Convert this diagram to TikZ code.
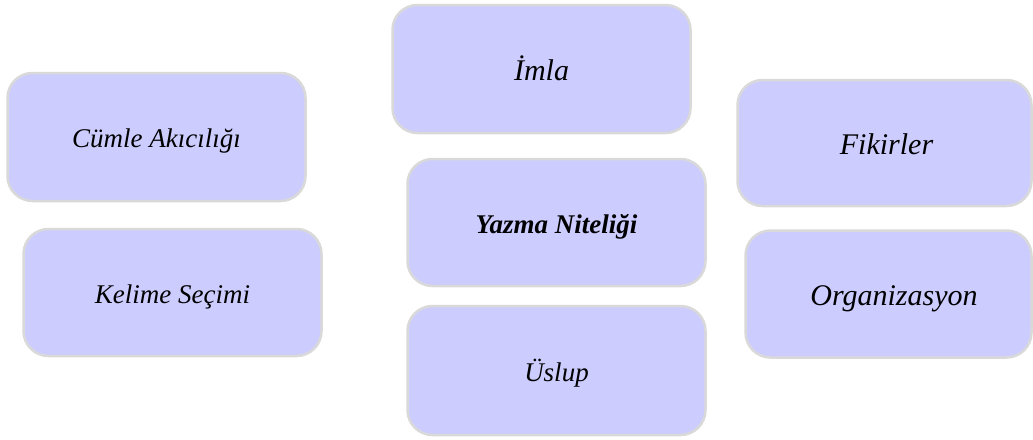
\documentclass[tikz,border=0pt]{standalone}
\usepackage{fontspec}
\setmainfont{Liberation Serif}
\definecolor{boxfill}{HTML}{CCCCFF}
\definecolor{boxline}{HTML}{D9D9D9}
\tikzset{
  topic/.style={draw=boxline, line width=2.5pt, fill=boxfill, rounded corners=25pt,
    inner sep=0pt, align=center, text height=21pt, text depth=0pt,
    font=\fontsize{27}{32}\selectfont\itshape},
  bigtopic/.style={topic, text height=23pt, font=\fontsize{30}{36}\selectfont\itshape},
}
\begin{document}
\begin{tikzpicture}[x=1pt,y=-1pt]
\useasboundingbox (0,0) rectangle (1033,439);
\node[topic, minimum width=298pt, minimum height=128pt] (cumle) at (156.5,137) {Cümle Akıcılığı};
\node[topic, minimum width=298pt, minimum height=127pt] (kelime) at (172.5,292.5) {Kelime Seçimi};
\node[bigtopic, minimum width=298pt, minimum height=128pt] (imla) at (541.5,69) {İmla};
\node[topic, minimum width=298pt, minimum height=127pt, font=\fontsize{27}{32}\selectfont\bfseries\itshape] (yazma) at (556.5,222.5) {Yazma Niteliği};
\node[topic, minimum width=298pt, minimum height=129pt] (uslup) at (556.5,370.5) {Üslup};
\node[bigtopic, minimum width=294pt, minimum height=126pt] (fikir) at (884.5,143) {\hspace*{4pt}Fikirler};
\node[bigtopic, minimum width=286pt, minimum height=127pt] (org) at (888.5,294) {\hspace*{11pt}Organizasyon};
\end{tikzpicture}
\end{document}
